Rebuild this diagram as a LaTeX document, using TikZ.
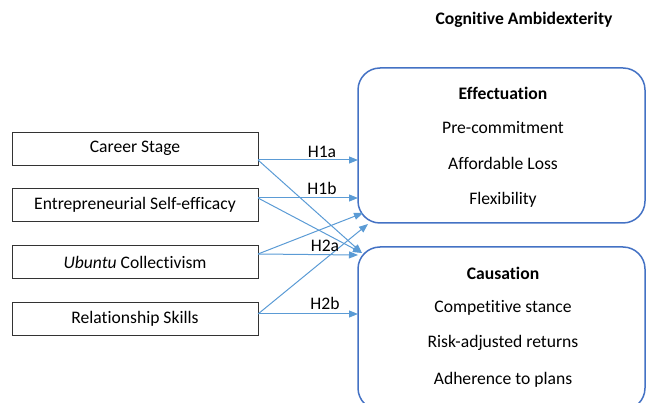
\documentclass[tikz,border=0pt]{standalone}
\usepackage{fontspec}
\setmainfont{Carlito}[RawFeature={-liga;-calt;-clig}]
\usetikzlibrary{arrows.meta}
\definecolor{hypblue}{HTML}{5B9BD5}
\definecolor{boxblue}{HTML}{4472C4}

\begin{document}
\begin{tikzpicture}
          [x=1pt,y=-1pt,every node/.style={font=\fontsize{17.6}{20}\selectfont},
           leftbox/.style={draw=black!80,line width=0.8pt,minimum width=246pt,minimum height=33pt,inner sep=0pt},
           construct/.style={draw=boxblue,line width=1.5pt,rounded corners=22pt,minimum width=287pt,inner sep=0pt},
           hyp/.style={draw=hypblue,line width=1pt,-{Triangle[length=9pt,width=7pt]}}]

          \clip (0,0) rectangle (646,403);
          \useasboundingbox (0,0) rectangle (646,403);

          \node[font=\fontsize{17.6}{20}\selectfont\bfseries] (title) at (524,20) {Cognitive Ambidexterity};

          \node[leftbox] (cs) at (135,148.5) {Career Stage};
          \node[leftbox] (ese) at (135,205) {Entrepreneurial Self-efficacy};
          \node[leftbox] (uc) at (135,262) {\textit{Ubuntu} Collectivism};
          \node[leftbox] (rs) at (135,319) {Relationship Skills};

          \node[construct,minimum height=155pt] (eff) at (501.5,145.5) {};
          \node[construct,minimum height=163pt] (cau) at (501.5,328.5) {};

          \node[font=\fontsize{17.6}{20}\selectfont\bfseries] (effname) at (503,93) {Effectuation};
          \node (eff1) at (503,128) {Pre-commitment};
          \node (eff2) at (503,163) {Affordable Loss};
          \node (eff3) at (503,200) {Flexibility};
          \node[font=\fontsize{17.6}{20}\selectfont\bfseries] (cauname) at (503,273) {Causation};
          \node (cau1) at (503,308) {Competitive stance};
          \node (cau2) at (503,343) {Risk-adjusted returns};
          \node (cau3) at (503,380) {Adherence to plans};

          \coordinate (cs-o) at (258,160);
          \coordinate (ese-o) at (258,198);
          \coordinate (uc-o) at (258,254);
          \coordinate (rs-o) at (258,314);
          \coordinate (eff-a) at (358,160);
          \coordinate (eff-b) at (358,198);
          \coordinate (eff-c) at (363,213);
          \coordinate (eff-d) at (368,224);
          \coordinate (cau-a) at (362,253);
          \coordinate (cau-b) at (358,255);
          \coordinate (cau-c) at (358,314);

          \draw[hyp] (cs-o) -- (eff-a);
          \draw[hyp] (cs-o) -- (cau-a);
          \draw[hyp] (ese-o) -- (eff-b);
          \draw[hyp] (ese-o) -- (cau-a);
          \draw[hyp] (uc-o) -- (eff-c);
          \draw[hyp] (uc-o) -- (cau-b);
          \draw[hyp] (rs-o) -- (eff-d);
          \draw[hyp] (rs-o) -- (cau-c);

          \node (h1a) at (322,152) {H1a};
          \node (h1b) at (322,188) {H1b};
          \node (h2a) at (325,246) {H2a};
          \node (h2b) at (325,303) {H2b};
        \end{tikzpicture}
\end{document}
